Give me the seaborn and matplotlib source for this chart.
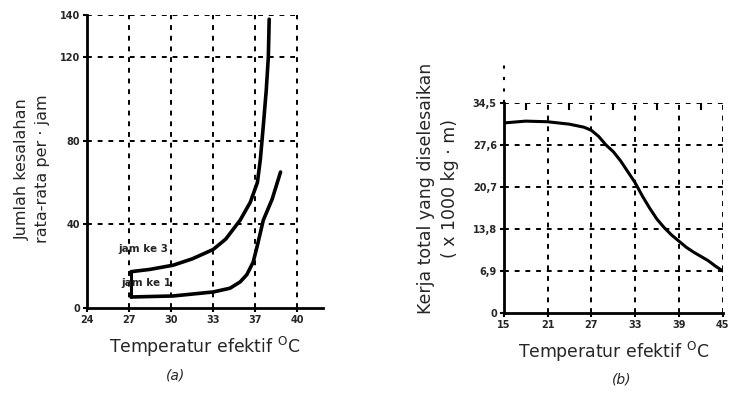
import numpy as np
import pandas as pd
import matplotlib
matplotlib.use("Agg")
import matplotlib.pyplot as plt
import seaborn as sns

# (a) x ticks are evenly spaced even though the values are not
tick_labels_a = ["24", "27", "30", "33", "37", "40"]
y_ticks_a = [0, 40, 80, 120, 140]

# curve positions are in tick-slot units (0 = 24, 1 = 27, ... 5 = 40)
jam3_x = [1.05, 1.5, 2.05, 2.5, 3.0, 3.3, 3.64, 3.88, 4.05, 4.12, 4.19, 4.26, 4.31, 4.33]
jam3_y = [17.4, 18.5, 20.5, 23.5, 28, 33, 42, 50.5, 60, 71, 87, 104, 120, 138]
jam1_x = [1.05, 2.05, 3.0, 3.4, 3.64, 3.8, 3.95, 4.05, 4.19, 4.4, 4.6]
jam1_y = [5.3, 5.8, 7.7, 9.5, 12.5, 16, 22, 30, 42, 52, 65]

# (b)
x_ticks_b = [15, 21, 27, 33, 39, 45]
y_ticks_b = [0, 6.9, 13.8, 20.7, 27.6, 34.5]
y_tick_labels_b = ["0", "6,9", "13,8", "20,7", "27,6", "34,5"]
temp_b = [15, 18, 21, 24, 26, 27, 28, 29, 30, 31, 32, 33, 34, 35, 36, 37, 38, 39, 40, 41, 42, 43, 44, 45]
kerja_b = [31.2, 31.5, 31.4, 31.0, 30.5, 30.0, 29.0, 27.6, 26.5, 25.0, 23.2, 21.4, 19.2, 17.2,
           15.4, 14.0, 12.8, 11.8, 10.8, 10.0, 9.3, 8.6, 7.7, 6.9]

sns.set_style("white")
plt.rcParams["font.family"] = ["DejaVu Sans"]

fig = plt.figure(figsize=(7.3, 3.95), dpi=100)
grid_kw = dict(color="black", linestyle=(0, (2.5, 3)), linewidth=1.4, zorder=1)

# ---------- (a) ----------
ax1 = fig.add_axes([0.119, 0.22, 0.323, 0.742])
df3 = pd.DataFrame({"x": jam3_x, "y": jam3_y})
df1 = pd.DataFrame({"x": jam1_x, "y": jam1_y})
sns.lineplot(data=df3, x="x", y="y", ax=ax1, color="black", linewidth=2.6, sort=False)
sns.lineplot(data=df1, x="x", y="y", ax=ax1, color="black", linewidth=2.6, sort=False)
ax1.plot([jam1_x[0], jam3_x[0]], [jam1_y[0], jam3_y[0]], color="black", linewidth=2.2)

pos = list(range(len(tick_labels_a)))
ax1.vlines(pos[1:], 0, 140, **grid_kw)
ax1.hlines(y_ticks_a[1:], 0, pos[-1], **grid_kw)
ax1.set_xlim(0, 5.6)
ax1.set_ylim(0, 140)
ax1.set_xticks(pos)
ax1.set_xticklabels(tick_labels_a)
ax1.set_yticks(y_ticks_a)
ax1.text(1.33, 28, "jam ke 3", fontsize=7.5, fontweight="bold", ha="center", va="center")
ax1.text(1.4, 12, "jam ke 1", fontsize=7.5, fontweight="bold", ha="center", va="center")
ax1.set_xlabel("Temperatur efektif $^{\\mathrm{O}}$C", fontsize=12.4, labelpad=7)
ax1.set_ylabel("")
fig.text(0.044, 0.572, "Jumlah kesalahan\nrata-rata per · jam", rotation=90,
         ha="center", va="center", fontsize=11.5, linespacing=1.4)
fig.text(0.24, 0.04, "(a)", fontsize=10, style="italic", ha="center")

# ---------- (b) ----------
ax2 = fig.add_axes([0.690, 0.2076, 0.300, 0.532])
dfb = pd.DataFrame({"temp": temp_b, "kerja": kerja_b})
sns.lineplot(data=dfb, x="temp", y="kerja", ax=ax2, color="black", linewidth=2.2)
ax2.vlines(x_ticks_b[1:], 0, 34.5, **grid_kw)
ax2.hlines(y_ticks_b[1:], 15, 45, **grid_kw)
ax2.set_xlim(15, 45)
ax2.set_ylim(0, 34.5)
ax2.set_xticks(x_ticks_b)
ax2.set_yticks(y_ticks_b)
ax2.set_yticklabels(y_tick_labels_b)
ax2.set_xticks([18, 24, 30, 36, 42], minor=True)
ax2.tick_params(axis="x", which="minor", top=True, bottom=False, direction="in",
                length=5, width=1.5, color="black")
ax2.plot([0, 0], [1, 1.2], transform=ax2.transAxes, color="black",
         linestyle=(0, (1.5, 4)), linewidth=1.5, clip_on=False)
ax2.set_xlabel("Temperatur efektif $^{\\mathrm{O}}$C", fontsize=12.4, labelpad=7)
ax2.set_ylabel("")
fig.text(0.600, 0.524, "Kerja total yang diselesaikan\n( x 1000 kg · m)", rotation=90,
         ha="center", va="center", fontsize=12.5, linespacing=1.4)
fig.text(0.852, 0.03, "(b)", fontsize=10, style="italic", ha="center")

for ax in (ax1, ax2):
    for side in ("top", "right"):
        ax.spines[side].set_visible(False)
    for side in ("left", "bottom"):
        ax.spines[side].set_color("black")
        ax.spines[side].set_linewidth(2.0)
    ax.tick_params(axis="both", which="major", labelsize=7, length=3, width=1.5,
                   color="black", left=True, bottom=True, pad=2)
    for lbl in ax.get_xticklabels() + ax.get_yticklabels():
        lbl.set_fontweight("bold")

fig.savefig("out.png", dpi=100, facecolor="white")
